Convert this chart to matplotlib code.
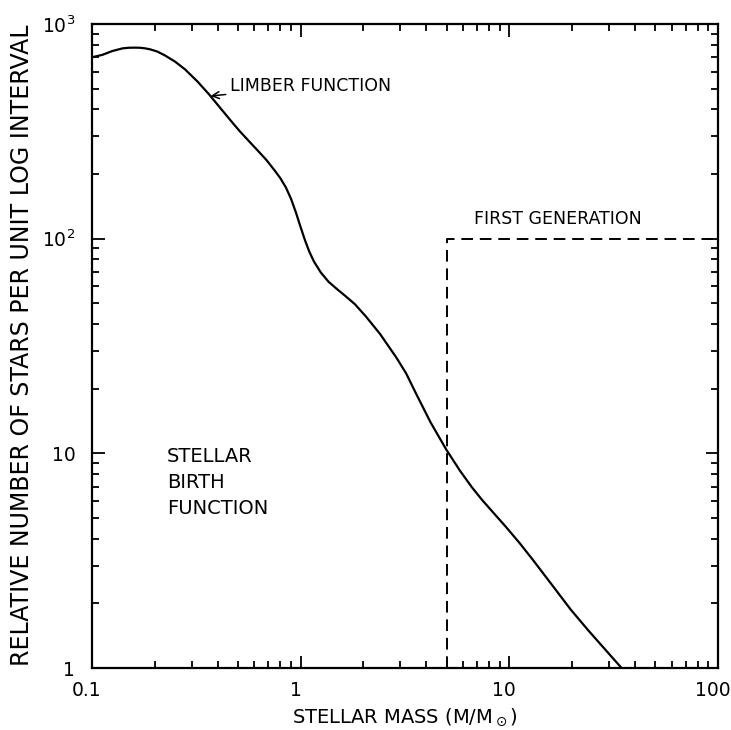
import matplotlib
matplotlib.use("Agg")
import matplotlib.pyplot as plt
import matplotlib.transforms as mtrans
import numpy as np
from matplotlib.ticker import FixedLocator, FixedFormatter, LogLocator, NullFormatter

plt.rcParams['font.family'] = ['DejaVu Sans']
plt.rcParams['mathtext.default'] = 'regular'

# Limber function
mass = [0.1, 0.112, 0.125, 0.14, 0.15, 0.16, 0.17, 0.18, 0.19, 0.205, 0.223, 0.25,
        0.279, 0.32, 0.364, 0.42, 0.47, 0.51, 0.58, 0.64, 0.684, 0.75, 0.80,
        0.85, 0.9, 0.95, 1.0, 1.05, 1.1, 1.16, 1.25, 1.36, 1.5, 1.64, 1.82,
        2.05, 2.4, 2.87, 3.2, 3.6, 4.2, 4.99, 5.8, 6.6, 7.4, 8.5,
        9.6, 11.2, 13.0, 16.0, 19.7, 24.0, 29.0, 34.5, 36.0]
limber = [700, 718, 748, 770, 775, 776, 775, 770, 762, 745, 715, 668,
          615, 540, 470, 397, 348, 317, 277, 250, 233, 208, 191,
          173, 153, 132, 113, 98, 87, 78, 69.5, 63, 58, 54, 49.5,
          43.5, 36, 28, 23.6, 18.7, 13.9, 10.4, 8.3, 6.97, 6.07, 5.21,
          4.56, 3.82, 3.18, 2.44, 1.87, 1.49, 1.21, 1.0, 0.95]

# first generation step
first_x = [5.0, 5.0, 100.0]
first_y = [1.0, 100.0, 100.0]

x_ticks = [0.1, 1, 10, 100]
x_ticklabels = ['0.1', '1', '10', '100']
y_ticks = [1, 10, 100, 1000]
y_ticklabels = ['1', '10', '$10^2$', '$10^3$']

fig = plt.figure(figsize=(7.31, 7.30), dpi=100)
ax = fig.add_axes([92 / 731, 62 / 730, 626 / 731, 644 / 730])

ax.plot(mass, limber, color='black', lw=1.6, solid_joinstyle='round')
ax.plot(first_x, first_y, color='black', lw=1.4, dashes=(6, 3.5))

ax.set_xscale('log')
ax.set_yscale('log')
ax.set_xlim(0.1, 100)
ax.set_ylim(1, 1000)

ax.xaxis.set_major_locator(FixedLocator(x_ticks))
ax.xaxis.set_major_formatter(FixedFormatter(x_ticklabels))
ax.yaxis.set_major_locator(FixedLocator(y_ticks))
ax.yaxis.set_major_formatter(FixedFormatter(y_ticklabels))
ax.xaxis.set_minor_locator(LogLocator(base=10, subs=np.arange(2, 10)))
ax.yaxis.set_minor_locator(LogLocator(base=10, subs=np.arange(2, 10)))
ax.xaxis.set_minor_formatter(NullFormatter())
ax.yaxis.set_minor_formatter(NullFormatter())

ax.tick_params(which='both', direction='in', top=True, right=True, width=1.3, colors='black')
ax.tick_params(which='major', length=9)
ax.tick_params(which='minor', length=5)
ax.tick_params(axis='x', which='major', pad=9, labelsize=13.5)
ax.tick_params(axis='y', which='major', pad=12, labelsize=13.5)
for s in ax.spines.values():
    s.set_linewidth(1.6)

# the scan leans a little, tick labels at the bottom sit a few pixels left
shift = mtrans.ScaledTranslation(-5 / 100, 0, fig.dpi_scale_trans)
for lab in ax.get_xticklabels():
    lab.set_transform(lab.get_transform() + shift)

fig.text(405 / 731, 1 - 717 / 730, r'STELLAR MASS (M/M$_\odot$)', fontsize=14,
         ha='center', va='center')
fig.text(22 / 731, 1 - 345 / 730, 'RELATIVE NUMBER OF STARS PER UNIT LOG INTERVAL',
         fontsize=17, rotation=90, ha='center', va='center')

ax.annotate('LIMBER FUNCTION', xy=(0.37, 462), xytext=(0.458, 514),
            fontsize=12.5, va='center', ha='left',
            arrowprops=dict(arrowstyle='->', color='black', lw=1.1, shrinkA=1, shrinkB=0))
ax.text(6.8, 124, 'FIRST GENERATION', fontsize=12.5, va='center', ha='left')
ax.text(0.228, 7.3, 'STELLAR\nBIRTH\nFUNCTION', fontsize=14, va='center', ha='left',
        linespacing=1.45)

fig.savefig('out.png', dpi=100)
